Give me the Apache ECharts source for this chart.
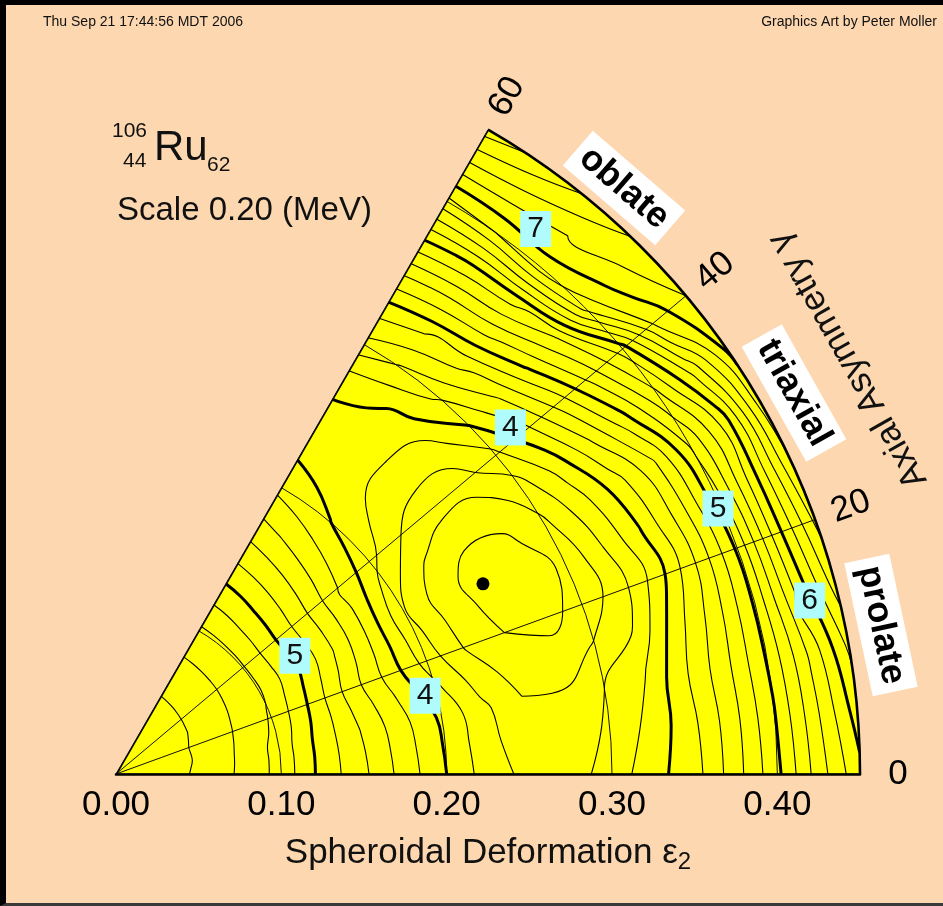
<!DOCTYPE html>
<html><head><meta charset="utf-8">
<script src="https://cdn.jsdelivr.net/npm/echarts@6/dist/echarts.min.js"></script>
<style>
html,body{margin:0;padding:0;background:#FCD7AF;overflow:hidden;}
#chart{width:943px;height:906px;position:absolute;left:0;top:0;}
#frame{position:absolute;left:0;top:0;width:943px;height:906px;box-sizing:border-box;border-top:5px solid #000;border-left:6px solid #000;border-bottom:3px solid #3a3a3a;pointer-events:none;}
</style>
</head><body><div id="chart"></div><div id="frame"></div>
<script>
// ---- data ----
const epsNodes = [0,0.025,0.05,0.075,0.10,0.125,0.15,0.175,0.20,0.225,0.25,0.275,0.30,0.325,0.35,0.375,0.40,0.425,0.45];
const gammaNodes = [0,5,10,15,20,25,30,35,40,45,50,55,60];
// potential energy (MeV) along each gamma row, at the epsNodes
const energyG0  = [5.90,5.87,5.78,5.57,5.33,4.93,4.64,4.31,4.00,3.70,3.54,3.52,3.68,3.93,4.12,4.52,4.95,5.50,5.95];
const energyG5  = [5.90,5.87,5.785,5.575,5.33,4.93,4.62,4.29,3.98,3.67,3.47,3.46,3.64,3.86,4.15,4.53,4.99,5.56,6.10];
const energyG10 = [5.90,5.87,5.79,5.58,5.33,4.93,4.60,4.27,3.96,3.65,3.42,3.42,3.60,3.80,4.18,4.55,5.02,5.62,6.25];
const energyG15 = [5.90,5.87,5.79,5.59,5.36,4.95,4.56,4.21,3.85,3.52,3.30,3.27,3.42,3.62,4.10,4.50,5.03,5.80,6.50];
const energyG20 = [5.90,5.87,5.79,5.60,5.38,4.97,4.52,4.14,3.72,3.38,3.20,3.14,3.26,3.52,3.93,4.44,5.04,5.90,6.65];
const energyG25 = [5.90,5.87,5.795,5.61,5.40,5.00,4.57,4.15,3.66,3.33,3.13,3.14,3.22,3.60,4.00,4.48,5.12,5.92,6.80];
const energyG30 = [5.90,5.87,5.80,5.62,5.42,5.04,4.62,4.17,3.62,3.30,3.12,3.15,3.35,3.70,4.10,4.55,5.23,5.88,6.90];
const energyG35 = [5.90,5.87,5.805,5.63,5.42,5.03,4.62,4.19,3.72,3.42,3.27,3.28,3.50,3.88,4.38,4.93,5.55,6.25,7.05];
const energyG40 = [5.90,5.87,5.81,5.64,5.42,5.02,4.62,4.20,3.86,3.60,3.49,3.52,3.75,4.17,4.70,5.30,5.90,6.85,7.20];
const energyG45 = [5.90,5.87,5.815,5.645,5.425,5.04,4.66,4.27,3.93,3.73,3.65,3.70,4.02,4.44,5.04,5.62,6.70,7.12,7.35];
const energyG50 = [5.90,5.87,5.82,5.65,5.43,5.06,4.70,4.33,4.01,3.85,3.83,3.93,4.25,4.68,5.28,5.90,6.90,7.20,7.55];
const energyG55 = [5.90,5.87,5.825,5.655,5.435,5.09,4.73,4.39,4.08,3.91,3.88,4.03,4.38,4.80,5.36,5.97,6.80,7.30,7.75];
const energyG60 = [5.90,5.87,5.83,5.66,5.44,5.11,4.76,4.44,4.14,3.96,3.93,4.08,4.53,4.90,5.44,6.05,6.74,7.35,7.90];

const contourLevels = [3.2,3.4,3.6,3.8,4.0,4.2,4.4,4.6,4.8,5.0,5.2,5.4,5.6,5.8,6.0,6.2,6.4,6.6,6.8,7.0,7.2,7.4,7.6,7.8];
const thickLevels = [4,5,6,7];

const epsTicks = [0,0.1,0.2,0.3,0.4];
const gammaTicks = [0,20,40,60];

const labelTexts = ['7','4','5','6','5','4'];
const labelEps   = [0.416,0.3175,0.398,0.4325,0.1297,0.1929];
const labelGamma = [52.4,41.3,23.8,14.05,33.5,14.2];

const minimumPoint = [0.250,27.4];
const oblateEdge = [[0,60],[0.45,60]];
const wedgeExtent = [[0.45,60]];

// ---- contouring (marching squares on the grid above) ----
const grid = [energyG0,energyG5,energyG10,energyG15,energyG20,energyG25,energyG30,energyG35,energyG40,energyG45,energyG50,energyG55,energyG60];

function contourLines(level){
  const lv = level + 1e-7;
  const nx = epsNodes.length, ny = gammaNodes.length;
  const pts = {}, segs = [];
  const val = (i,j) => grid[j][i];
  const crossH = (i,j) => {
    const a = val(i,j), b = val(i+1,j);
    if ((a>=lv)===(b>=lv)) return null;
    const k = 'h'+i+'_'+j;
    if (!pts[k]) { const t=(lv-a)/(b-a); pts[k]=[epsNodes[i]+t*(epsNodes[i+1]-epsNodes[i]), gammaNodes[j]]; }
    return k;
  };
  const crossV = (i,j) => {
    const a = val(i,j), b = val(i,j+1);
    if ((a>=lv)===(b>=lv)) return null;
    const k = 'v'+i+'_'+j;
    if (!pts[k]) { const t=(lv-a)/(b-a); pts[k]=[epsNodes[i], gammaNodes[j]+t*(gammaNodes[j+1]-gammaNodes[j])]; }
    return k;
  };
  for (let j=0;j<ny-1;j++) for (let i=0;i<nx-1;i++){
    const bottom=crossH(i,j), top=crossH(i,j+1), left=crossV(i,j), right=crossV(i+1,j);
    const list=[bottom,right,top,left].filter(Boolean);
    if (list.length===2) segs.push(list);
    else if (list.length===4){
      const c=(val(i,j)+val(i+1,j)+val(i,j+1)+val(i+1,j+1))/4;
      if ((c>=lv)===(val(i,j)>=lv)) { segs.push([bottom,right]); segs.push([top,left]); }
      else { segs.push([bottom,left]); segs.push([right,top]); }
    }
  }
  const adj = {};
  segs.forEach((s,id)=>{ s.forEach(k=>{ (adj[k]=adj[k]||[]).push(id); }); });
  const used = new Array(segs.length).fill(false);
  const walk = (start) => {
    const line=[start]; let cur=start;
    for(;;){
      const nxt=(adj[cur]||[]).find(id=>!used[id]);
      if (nxt===undefined) break;
      used[nxt]=true;
      const s=segs[nxt]; const other = s[0]===cur ? s[1] : s[0];
      line.push(other); cur=other;
    }
    return line;
  };
  const lines=[];
  Object.keys(adj).forEach(k=>{ if (adj[k].length===1 && !used[adj[k][0]]) lines.push(walk(k)); });
  segs.forEach((s,id)=>{ if(!used[id]) lines.push(walk(s[0])); });
  return lines.filter(l=>l.length>1).map(l=>l.map(k=>pts[k]));
}

const FONT = '"Liberation Sans", Arial, Helvetica, sans-serif';
const series = [];
// yellow wedge (drawn through the polar coordinate system)
series.push({type:'custom', coordinateSystem:'polar', silent:true, z:1, data:wedgeExtent,
  renderItem:(params, api)=>{
    const c = api.coord([0,0]);
    const e = api.coord([api.value(0),0]);
    const r = Math.hypot(e[0]-c[0], e[1]-c[1]);
    const a = api.value(1)*Math.PI/180;
    return {type:'sector', shape:{cx:c[0], cy:c[1], r0:0, r:r, startAngle:-a, endAngle:0, clockwise:true},
      style:{fill:'#FFFF00'}};
  }});
contourLevels.forEach(level=>{
  const thick = thickLevels.some(t=>Math.abs(t-level)<1e-6);
  contourLines(level).forEach(line=>{
    series.push({
      type:'line', coordinateSystem:'polar', data:line, showSymbol:false, symbol:'none',
      smooth:0.45, silent:true, clip:true, z: thick?4:3,
      lineStyle:{color:'#000', width: thick?3:1.1}
    });
  });
});
series.push({type:'line', coordinateSystem:'polar', data:oblateEdge, showSymbol:false, symbol:'none', silent:true, z:5,
  lineStyle:{color:'#000', width:2.6}});
series.push({type:'scatter', coordinateSystem:'polar', symbol:'circle', symbolSize:13, silent:true, z:6,
  itemStyle:{color:'#000', opacity:1}, data:[minimumPoint]});
series.push({type:'scatter', coordinateSystem:'polar', symbol:'rect', symbolSize:[31,36], silent:true, z:8,
  itemStyle:{color:'#B0FCFC', opacity:1},
  label:{show:true, position:'inside', formatter:p=>p.name, fontSize:30, color:'#111', fontFamily:FONT},
  data: labelTexts.map((t,k)=>({name:t, value:[labelEps[k], labelGamma[k]]}))});
// gamma tick labels, rotated radially outside the arc
series.push({type:'scatter', coordinateSystem:'polar', symbol:'circle', symbolSize:1, silent:true, z:8, clip:false,
  itemStyle:{color:'rgba(0,0,0,0)', opacity:1},
  label:{show:true, position:'inside', formatter:p=>p.name, fontSize:35, color:'#000', opacity:1, textBorderWidth:0, fontFamily:FONT},
  data: gammaTicks.map(g=>({name:String(g), value:[0.45,g], label:{rotate:g, offset:[38,0]}}))});
// epsilon tick labels below the gamma = 0 axis
series.push({type:'scatter', coordinateSystem:'polar', symbol:'circle', symbolSize:1, silent:true, z:8, clip:false,
  itemStyle:{color:'rgba(0,0,0,0)', opacity:1},
  label:{show:true, position:'inside', offset:[0,31], formatter:p=>p.name, fontSize:35, color:'#000', opacity:1, textBorderWidth:0, fontFamily:FONT},
  data: epsTicks.map(e=>({name:e.toFixed(2), value:[e,0]}))});

const chart = echarts.init(document.getElementById('chart'), null, {renderer:'canvas'});
chart.setOption({
  backgroundColor:'#FCD7AF',
  animation:false,
  polar:{center:[116,774], radius:744},
  angleAxis:{
    type:'value', min:0, max:60, interval:20, startAngle:0, endAngle:60, clockwise:false, z:2,
    axisLine:{show:true, lineStyle:{color:'#000', width:2.6}},
    axisTick:{show:false},
    axisLabel:{show:false},
    splitLine:{show:true, lineStyle:{color:'#111', width:1}},
    splitArea:{show:false}
  },
  radiusAxis:{
    type:'value', min:0, max:0.45, interval:0.1, z:2,
    axisLine:{show:true, lineStyle:{color:'#000', width:2.6}},
    axisTick:{show:false},
    axisLabel:{show:false},
    splitLine:{show:true, lineStyle:{color:'#111', width:1}},
    name:'{a|Spheroidal Deformation ε}{b|2}', nameLocation:'middle', nameGap:58,
    nameTextStyle:{color:'#111', fontFamily:FONT, rich:{
      a:{fontSize:35, color:'#111', fontFamily:FONT},
      b:{fontSize:24, color:'#111', fontFamily:FONT, padding:[18,0,0,0]}}}
  },
  graphic:[
    {type:'text', x:43, y:22, style:{text:'Thu Sep 21 17:44:56 MDT 2006', font:'14px '+FONT, fill:'#111', verticalAlign:'middle'}},
    {type:'text', x:937, y:22, style:{text:'Graphics Art by Peter Moller', font:'14px '+FONT, fill:'#111', align:'right', verticalAlign:'middle'}},
    {type:'text', x:112, y:131, style:{text:'106', font:'21px '+FONT, fill:'#111', verticalAlign:'middle'}},
    {type:'text', x:123, y:161, style:{text:'44', font:'21px '+FONT, fill:'#111', verticalAlign:'middle'}},
    {type:'text', x:154, y:148, style:{text:'Ru', font:'42px '+FONT, fill:'#111', verticalAlign:'middle'}},
    {type:'text', x:207, y:165, style:{text:'62', font:'21px '+FONT, fill:'#111', verticalAlign:'middle'}},
    {type:'text', x:117, y:211, style:{text:'Scale 0.20 (MeV)', font:'33px '+FONT, fill:'#111', verticalAlign:'middle'}},
    {type:'text', x:624, y:188, rotation:-0.712, z:20, style:{text:'oblate', font:'bold 36px '+FONT, fill:'#000', align:'center', verticalAlign:'middle', backgroundColor:'#fff', padding:[5,8]}},
    {type:'text', x:794, y:393, rotation:-1.06, z:20, style:{text:'triaxial', font:'bold 36px '+FONT, fill:'#000', align:'center', verticalAlign:'middle', backgroundColor:'#fff', padding:[5,8]}},
    {type:'text', x:881, y:625, rotation:-1.36, z:20, style:{text:'prolate', font:'bold 36px '+FONT, fill:'#000', align:'center', verticalAlign:'middle', backgroundColor:'#fff', padding:[5,8]}},
    {type:'text', x:848, y:360, rotation:2.085, z:20, style:{text:'Axial Asymmetry γ', font:'35px '+FONT, fill:'#111', align:'center', verticalAlign:'middle'}}
  ],
  series: series
});
</script>
</body></html>
